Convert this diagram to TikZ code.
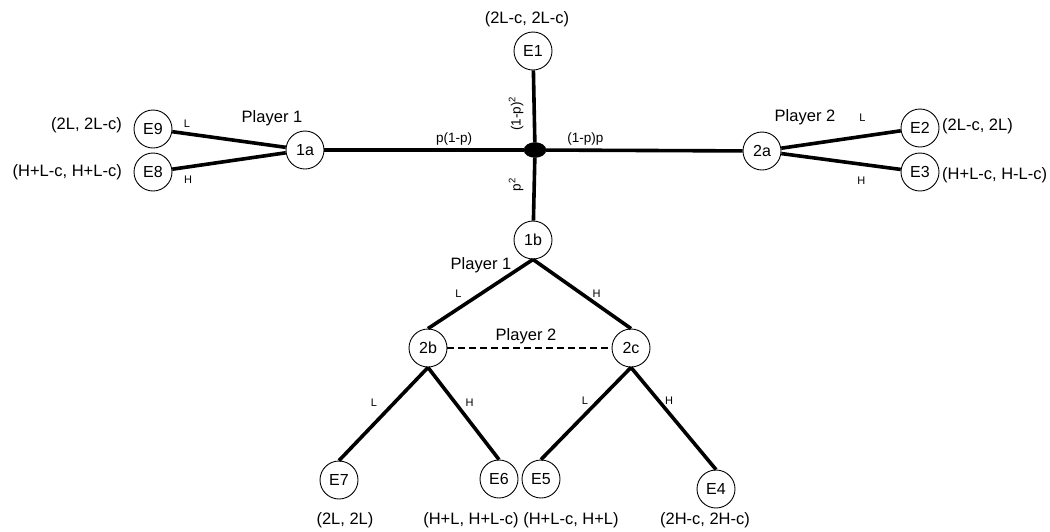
\documentclass[tikz,border=0pt]{standalone}
\usepackage{fontspec}
\setmainfont{Liberation Sans}
\usetikzlibrary{shapes.geometric,positioning}

\begin{document}
\begin{tikzpicture}[x=1pt, y=-1pt,
    state/.style={draw, circle, minimum size=38pt, inner sep=0pt, line width=0.9pt, font=\fontsize{16}{19}\selectfont},
    chance/.style={draw, ellipse, fill=black, minimum width=22pt, minimum height=15pt, inner sep=0pt},
    move/.style={line width=3.6pt},
    info/.style={line width=2.1pt, dash pattern=on 7pt off 4pt},
    payoff/.style={font=\fontsize{16.5}{19}\selectfont, inner sep=0pt},
    player/.style={font=\fontsize{16.5}{19}\selectfont, inner sep=0pt},
    prob/.style={font=\fontsize{13.5}{16}\selectfont},
    act/.style={font=\fontsize{11}{13}\selectfont},
]

\useasboundingbox (0,0) rectangle (1050,531);

% Nature
\node[chance] (c) at (535,150) {};

% Decision nodes
\node[state] (E1) at (533,51) {E1};
\node[state] (n1a) at (305,150) {1a};
\node[state] (n2a) at (762,151) {2a};
\node[state] (n1b) at (533,240) {1b};
\node[state] (n2b) at (428,348) {2b};
\node[state] (n2c) at (631,348) {2c};

% Outcomes
\node[state] (E9) at (153,129) {E9};
\node[state] (E8) at (153,172) {E8};
\node[state] (E2) at (920,128) {E2};
\node[state] (E3) at (920,172) {E3};
\node[state] (E7) at (339,480) {E7};
\node[state] (E6) at (499,479) {E6};
\node[state] (E5) at (541,479) {E5};
\node[state] (E4) at (716,489) {E4};

% Chance moves
\draw[move] (E1) -- node[prob, pos=0.6, rotate=90, anchor=south, inner sep=9pt] {(1-p)\textsuperscript{2}} (c);
\draw[move] (c) -- node[prob, pos=0.43, rotate=90, anchor=south, inner sep=9pt] {p\textsuperscript{2}} (n1b);
\draw[move] (n1a) -- node[prob, pos=0.65, above] {p(1-p)} (c);
\draw[move] (c) -- node[prob, pos=0.2, above] {(1-p)p} (n2a);

% Player 1 at 1a
\draw[move] (E9) -- node[act, pos=0.13, above=1pt] {L} (n1a);
\draw[move] (E8) -- node[act, pos=0.14, below=4pt] {H} (n1a);

% Player 2 at 2a
\draw[move] (n2a) -- node[act, pos=0.68, above=10pt] {L} (E2);
\draw[move] (n2a) -- node[act, pos=0.67, below=8pt] {H} (E3);

% Player 1 at 1b
\draw[move] (n1b.south) -- node[act, pos=0.49, left=15pt] {L} (n2b.north);
\draw[move] (n1b.south) -- node[act, pos=0.49, right=6.5pt] {H} (n2c.north);

% Player 2 at 2b / 2c
\draw[info] (n2b) -- (n2c);
\draw[move] (n2b.south) -- node[act, pos=0.38, left=12pt] {L} (E7.north);
\draw[move] (n2b.south) -- node[act, pos=0.38, right=5.5pt] {H} (E6.north);
\draw[move] (n2c.south) -- node[act, pos=0.36, left=5.5pt] {L} (E5.north);
\draw[move] (n2c.south) -- node[act, pos=0.33, right=1pt] {H} (E4.north);

% Players
\node[player] (pl1a) at (272,118) {Player 1};
\node[player] (pl2a) at (805,117) {Player 2};
\node[player] (pl1b) at (481,265) {Player 1};
\node[player] (pl2b) at (526,336) {Player 2};

% Payoffs
\node[payoff] (u1) at (527,19) {(2L-c, 2L-c)};
\node[payoff, anchor=east] (u9) at (122,125) {(2L, 2L-c)};
\node[payoff, anchor=east] (u8) at (122,172) {(H+L-c, H+L-c)};
\node[payoff, anchor=west] (u2) at (942,126) {(2L-c, 2L)};
\node[payoff, anchor=west] (u3) at (942,175) {(H+L-c, H-L-c)};
\node[payoff] (u7) at (345,520) {(2L, 2L)};
\node[payoff] (u6) at (471,520) {(H+L, H+L-c)};
\node[payoff] (u5) at (571,520) {(H+L-c, H+L)};
\node[payoff] (u4) at (705,520) {(2H-c, 2H-c)};

\end{tikzpicture}
\end{document}
